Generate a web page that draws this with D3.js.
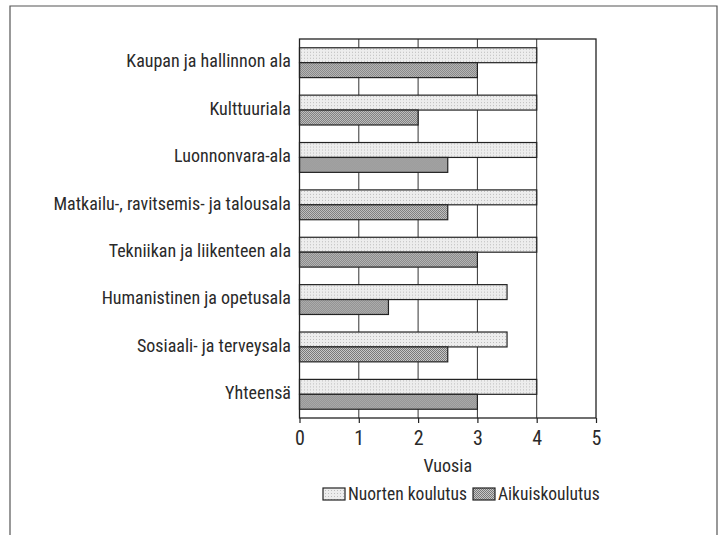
<!DOCTYPE html>
<html>
<head>
<meta charset="utf-8">
<script src="https://cdn.jsdelivr.net/npm/d3@7"></script>
<style>
  body { margin: 0; background: #fff; }
  text { font-family: "Liberation Sans Narrow", "Roboto Condensed", "Liberation Sans", sans-serif; fill: #2a2a2a; }
</style>
</head>
<body>
<script>
// data
const categories = [
  "Kaupan ja hallinnon ala",
  "Kulttuuriala",
  "Luonnonvara-ala",
  "Matkailu-, ravitsemis- ja talousala",
  "Tekniikan ja liikenteen ala",
  "Humanistinen ja opetusala",
  "Sosiaali- ja terveysala",
  "Yhteensä"
];
const nuorten = [4, 4, 4, 4, 4, 3.5, 3.5, 4];
const aikuis = [3, 2, 2.5, 2.5, 3, 1.5, 2.5, 3];
const seriesNames = ["Nuorten koulutus", "Aikuiskoulutus"];
const xTicks = [0, 1, 2, 3, 4, 5];

const W = 720, H = 535;
const svg = d3.select("body").append("svg").attr("width", W).attr("height", H);

// patterns for the bars
const defs = svg.append("defs");
const p1 = defs.append("pattern").attr("id", "light")
  .attr("width", 3).attr("height", 3).attr("patternUnits", "userSpaceOnUse");
p1.append("rect").attr("width", 3).attr("height", 3).attr("fill", "#ededed");
p1.append("rect").attr("x", 1).attr("y", 1).attr("width", 1).attr("height", 1).attr("fill", "#bdbdbd");
const p2 = defs.append("pattern").attr("id", "dark")
  .attr("width", 2).attr("height", 2).attr("patternUnits", "userSpaceOnUse");
p2.append("rect").attr("width", 2).attr("height", 2).attr("fill", "#c8c8c8");
p2.append("rect").attr("width", 1).attr("height", 1).attr("fill", "#777");
p2.append("rect").attr("x", 1).attr("y", 1).attr("width", 1).attr("height", 1).attr("fill", "#777");

// outer frame (no bottom edge, it runs off the page)
svg.append("path")
  .attr("d", "M10,540 L10,6 L717,6 L717,540")
  .attr("fill", "none").attr("stroke", "#555").attr("stroke-width", 1.2);

const m = { left: 299.5, right: 596, top: 39, bottom: 418 };
const x = d3.scaleLinear().domain([0, 5]).range([m.left, m.right]);
const y = d3.scaleBand().domain(categories).range([m.top, m.bottom]).paddingInner(0.37).paddingOuter(0.185);
const sub = d3.scaleBand().domain(seriesNames).range([0, y.bandwidth()]);

// gridlines
svg.append("g").selectAll("line").data(xTicks.slice(1, 5)).join("line")
  .attr("x1", d => x(d)).attr("x2", d => x(d))
  .attr("y1", m.top).attr("y2", m.bottom)
  .attr("stroke", "#333").attr("stroke-width", 1);

// bars
const rows = svg.append("g").selectAll("g").data(categories).join("g")
  .attr("transform", d => `translate(0,${y(d)})`);
rows.append("rect")
  .attr("x", x(0)).attr("y", sub(seriesNames[0]))
  .attr("width", (d, i) => x(nuorten[i]) - x(0)).attr("height", sub.bandwidth())
  .attr("fill", "url(#light)").attr("stroke", "#222").attr("stroke-width", 1.2);
rows.append("rect")
  .attr("x", x(0)).attr("y", sub(seriesNames[1]))
  .attr("width", (d, i) => x(aikuis[i]) - x(0)).attr("height", sub.bandwidth())
  .attr("fill", "url(#dark)").attr("stroke", "#222").attr("stroke-width", 1.2);

// plot border
svg.append("rect")
  .attr("x", m.left).attr("y", m.top)
  .attr("width", m.right - m.left).attr("height", m.bottom - m.top)
  .attr("fill", "none").attr("stroke", "#222").attr("stroke-width", 1.3);

// category labels
svg.append("g").selectAll("text").data(categories).join("text")
  .attr("x", 291).attr("y", d => y(d) + y.bandwidth() / 2)
  .attr("text-anchor", "end").attr("dominant-baseline", "middle")
  .attr("font-size", 18).text(d => d);

// x axis
const xAxis = svg.append("g").attr("transform", `translate(0,${m.bottom})`)
  .call(d3.axisBottom(x).tickValues(xTicks).tickFormat(d3.format("d")).tickSize(5).tickPadding(8));
xAxis.attr("font-family", null);
xAxis.select(".domain").remove();
xAxis.selectAll("line").attr("stroke", "#222").attr("stroke-width", 1.2);
xAxis.selectAll("text").attr("font-size", 20).attr("fill", "#2a2a2a");

svg.append("text").attr("x", x(2.5)).attr("y", 472)
  .attr("text-anchor", "middle").attr("font-size", 18).text("Vuosia");

// legend
const legend = svg.append("g");
const lx = [323, 473];
const fills = ["url(#light)", "url(#dark)"];
seriesNames.forEach((s, i) => {
  legend.append("rect").attr("x", lx[i]).attr("y", 488).attr("width", 22).attr("height", 12)
    .attr("fill", fills[i]).attr("stroke", "#222").attr("stroke-width", 1.2);
  legend.append("text").attr("x", lx[i] + 25).attr("y", 500)
    .attr("font-size", 17.5).text(s);
});
</script>
</body>
</html>
